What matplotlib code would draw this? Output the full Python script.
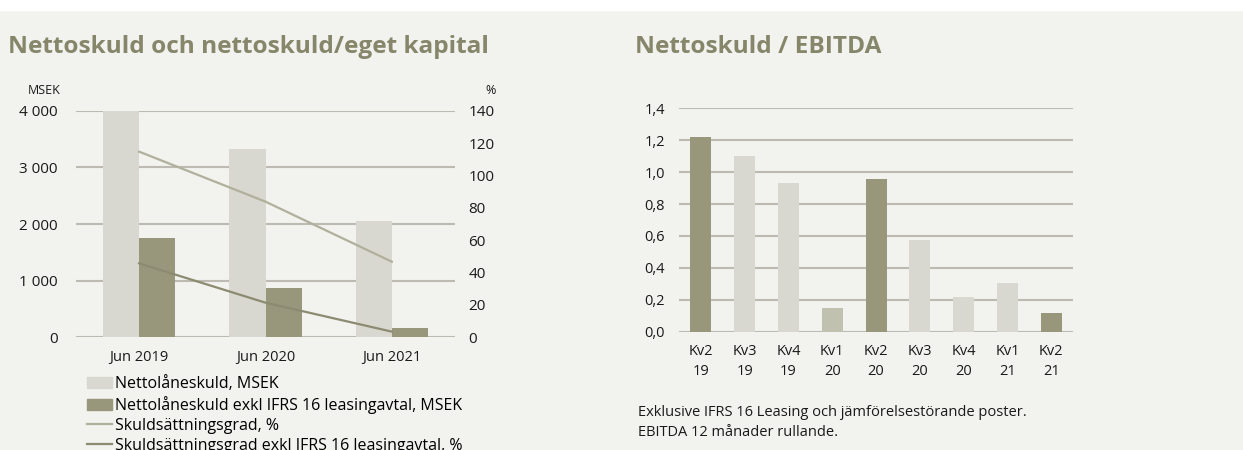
import matplotlib.pyplot as plt
import numpy as np
from matplotlib.patches import Patch
from matplotlib.lines import Line2D

plt.rcParams['font.family'] = ['Open Sans', 'DejaVu Sans']

# Data - left chart
years = ['Jun 2019', 'Jun 2020', 'Jun 2021']
nettolaneskuld = [4000, 3325, 2045]
nettolaneskuld_exkl = [1750, 865, 160]
skuldsattningsgrad = [114.7, 83.8, 46.7]
skuldsattningsgrad_exkl = [45.7, 21.4, 3.5]

# Data - right chart
quarters = ['Kv2\n19', 'Kv3\n19', 'Kv4\n19', 'Kv1\n20', 'Kv2\n20', 'Kv3\n20', 'Kv4\n20', 'Kv1\n21', 'Kv2\n21']
ratio = [1.22, 1.10, 0.93, 0.15, 0.96, 0.575, 0.22, 0.305, 0.12]
bar_colors = ['#98977b', '#d8d8d0', '#d8d8d0', '#c1c1af', '#98977b', '#d8d8d0', '#d8d8d0', '#d8d8d0', '#98977b']

bg = '#f2f2ee'
dark = '#98977b'
light = '#d8d8d0'
grid_c = '#bdbab2'
title_c = '#86866b'
txt = '#1a1a1a'

fig = plt.figure(figsize=(12.43, 4.5), dpi=100, facecolor=bg)
fig.patches.append(plt.Rectangle((0, 450 - 10), 1243, 10, transform=None, color='white', zorder=0))

# ---- left chart ----
ax1 = fig.add_axes([0.0611, 0.2504, 0.305, 0.5036])
ax1.set_facecolor(bg)
x = np.arange(len(years))
w = 0.285
ax1.bar(x - w/2, nettolaneskuld, w, color=light, zorder=2)
ax1.bar(x + w/2, nettolaneskuld_exkl, w, color=dark, zorder=2)
ax1.set_xlim(-0.5, 2.5)
ax1.set_ylim(0, 4000)
ax1.set_yticks([0, 1000, 2000, 3000, 4000])
ax1.set_yticklabels(['0', '1 000', '2 000', '3 000', '4 000'])
ax1.set_xticks(x)
ax1.set_xticklabels(years, fontsize=10.5)
ax1.grid(axis='y', color=grid_c, linewidth=1.5, zorder=0)
for s in ax1.spines.values():
    s.set_visible(False)
ax1.tick_params(axis='y', length=0, pad=13, labelsize=11, colors=txt)
ax1.tick_params(axis='x', length=0, pad=9, colors=txt)

ax2 = ax1.twinx()
ax2.plot(x, skuldsattningsgrad, color='#b1b09c', linewidth=1.6, zorder=3)
ax2.plot(x, skuldsattningsgrad_exkl, color='#8c8b71', linewidth=1.6, zorder=3)
ax2.set_ylim(0, 140)
ax2.set_yticks(range(0, 141, 20))
for s in ax2.spines.values():
    s.set_visible(False)
ax2.tick_params(axis='y', length=0, pad=9.5, labelsize=11, colors=txt)

fig.text(28 / 1243, 1 - 90 / 450, 'MSEK', fontsize=9, va='center', color=txt)
fig.text(491 / 1243, 1 - 90 / 450, '%', fontsize=9, va='center', ha='center', color=txt)

fig.text(8 / 1243, 1 - 47 / 450, 'Nettoskuld och nettoskuld/eget kapital',
         fontsize=17.6, fontweight='bold', color=title_c, va='center')

handles = [Patch(color=light), Patch(color=dark),
           Line2D([], [], color='#b1b09c', linewidth=1.6),
           Line2D([], [], color='#8c8b71', linewidth=1.6)]
labels = ['Nettolåneskuld, MSEK', 'Nettolåneskuld exkl IFRS 16 leasingavtal, MSEK',
          'Skuldsättningsgrad, %', 'Skuldsättningsgrad exkl IFRS 16 leasingavtal, %']
fig.legend(handles, labels, loc='upper left', bbox_to_anchor=(87 / 1243, 1 - 376 / 450),
           frameon=False, fontsize=11.5, handlelength=1.55, handleheight=0.75,
           handletextpad=0.2, labelspacing=0.25, borderaxespad=0, borderpad=0)

# ---- right chart ----
ax3 = fig.add_axes([0.5463, 0.2629, 0.317, 0.4964])
ax3.set_facecolor(bg)
xq = np.arange(len(quarters))
ax3.bar(xq, ratio, 0.48, color=bar_colors, zorder=2)
ax3.set_xlim(-0.5, 8.5)
ax3.set_ylim(0, 1.4)
yt = np.arange(0, 1.41, 0.2)
ax3.set_yticks(yt)
ax3.set_yticklabels([f'{v:.1f}'.replace('.', ',') for v in yt])
ax3.set_xticks(xq)
ax3.set_xticklabels(quarters, linespacing=1.45)
ax3.grid(axis='y', color=grid_c, linewidth=1.5, zorder=0)
for s in ax3.spines.values():
    s.set_visible(False)
ax3.tick_params(axis='y', length=0, pad=10, labelsize=10.5, colors=txt)
ax3.tick_params(axis='x', length=0, pad=9, labelsize=10.5, colors=txt)

fig.text(635 / 1243, 1 - 47 / 450, 'Nettoskuld / EBITDA',
         fontsize=17.6, fontweight='bold', color=title_c, va='center')
fig.text(638 / 1243, 1 - 412 / 450, 'Exklusive IFRS 16 Leasing och jämförelsestörande poster.',
         fontsize=10.5, color=txt, va='center')
fig.text(638 / 1243, 1 - 433 / 450, 'EBITDA 12 månader rullande.',
         fontsize=10.5, color=txt, va='center')

fig.savefig('out.png', dpi=100, facecolor=bg)
